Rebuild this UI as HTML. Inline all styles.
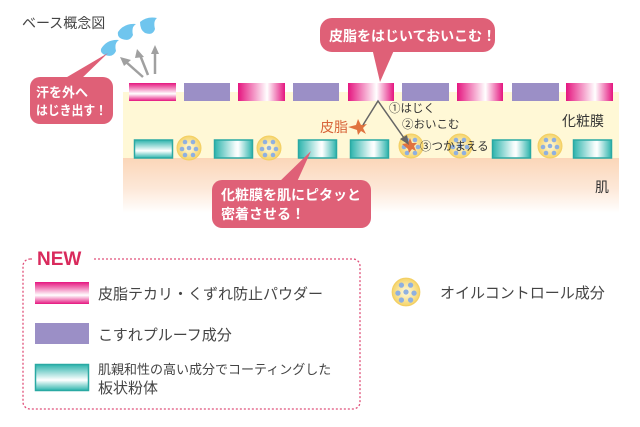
<!DOCTYPE html>
<html><head><meta charset="utf-8"><style>
html,body{margin:0;padding:0;background:#fff;}
svg{display:block;}
text{font-family:"Liberation Sans","Noto Sans CJK JP",sans-serif;}
</style></head><body>
<svg width="640" height="427" viewBox="0 0 640 427" xmlns="http://www.w3.org/2000/svg">
<defs>
<linearGradient id="pinkH" x1="0" x2="1" y1="0" y2="0">
<stop offset="0" stop-color="#e5157f"/><stop offset="0.55" stop-color="#fce6f1"/><stop offset="0.62" stop-color="#fff"/><stop offset="1" stop-color="#e5157f"/></linearGradient>
<linearGradient id="pinkV" x1="0" x2="0" y1="0" y2="1">
<stop offset="0" stop-color="#e5157f"/><stop offset="0.6" stop-color="#fff"/><stop offset="1" stop-color="#e5157f"/></linearGradient>
<linearGradient id="tealH" x1="0" x2="1" y1="0" y2="0">
<stop offset="0" stop-color="#2db4ad"/><stop offset="0.55" stop-color="#f2fbfa"/><stop offset="0.62" stop-color="#fff"/><stop offset="1" stop-color="#2db4ad"/></linearGradient>
<linearGradient id="tealV" x1="0" x2="0" y1="0" y2="1">
<stop offset="0" stop-color="#2db4ad"/><stop offset="0.6" stop-color="#fff"/><stop offset="1" stop-color="#2db4ad"/></linearGradient>
<linearGradient id="skin" x1="0" x2="0" y1="0" y2="1">
<stop offset="0" stop-color="#fbd6b8"/><stop offset="0.55" stop-color="#fde8d8"/><stop offset="1" stop-color="#fff"/></linearGradient>
<radialGradient id="ball"><stop offset="0" stop-color="#fffbe0"/><stop offset="1" stop-color="#f5d46a"/></radialGradient>
<g id="oil"><circle r="12" fill="url(#ball)" stroke="#f3cf63" stroke-width="1"/>
<circle cx="-4" cy="-6" r="2.3" fill="#8fb0e0"/><circle cx="4" cy="-6" r="2.3" fill="#8fb0e0"/>
<circle cx="-7" cy="1" r="2.3" fill="#8fb0e0"/><circle cx="0" cy="0" r="2.3" fill="#8fb0e0"/><circle cx="7" cy="1" r="2.3" fill="#8fb0e0"/>
<circle cx="-4" cy="7" r="2.3" fill="#8fb0e0"/><circle cx="4" cy="7" r="2.3" fill="#8fb0e0"/></g>
</defs>

<text x="22" y="28" font-size="14" fill="#444">ベース概念図</text>

<rect x="123" y="92" width="496" height="67" fill="#fff8d6"/>
<rect x="123" y="158" width="496" height="55" fill="url(#skin)"/>
<text x="562" y="126" font-size="14" fill="#333">化粧膜</text>
<text x="595" y="192" font-size="14" fill="#333">肌</text>

<rect x="129" y="83" width="47" height="18" fill="url(#pinkV)"/>
<rect x="184" y="83" width="46" height="18" fill="#9b8fc6"/>
<rect x="238" y="83" width="47" height="18" fill="url(#pinkH)"/>
<rect x="293" y="83" width="46" height="18" fill="#9b8fc6"/>
<rect x="348" y="83" width="46" height="18" fill="url(#pinkH)"/>
<rect x="402" y="83" width="47" height="18" fill="#9b8fc6"/>
<rect x="457" y="83" width="46" height="18" fill="url(#pinkH)"/>
<rect x="512" y="83" width="47" height="18" fill="#9b8fc6"/>
<rect x="566" y="83" width="47" height="18" fill="url(#pinkH)"/>

<g stroke="#2aa9a3" stroke-width="1.5">
<rect x="134.5" y="140" width="38" height="18" fill="url(#tealV)"/>
<rect x="214.5" y="140" width="38" height="18" fill="url(#tealH)"/>
<rect x="298.5" y="140" width="38" height="18" fill="url(#tealH)"/>
<rect x="350.5" y="140" width="38" height="18" fill="url(#tealH)"/>
<rect x="492.5" y="140" width="38" height="18" fill="url(#tealH)"/>
<rect x="573.5" y="140" width="38" height="18" fill="url(#tealH)"/>
</g>
<use href="#oil" x="189" y="148"/>
<use href="#oil" x="269" y="148"/>
<use href="#oil" x="411" y="146"/>
<use href="#oil" x="460" y="146"/>
<use href="#oil" x="550" y="146"/>

<text x="320" y="132" font-size="14" fill="#d8643a">皮脂</text>
<path d="M348 127 l8 -2 l2 -6 l3 6 l6 -1 l-4 4 l3 6 l-5 -3 l-3 4 l-1 -5 z" fill="#e0733f"/>
<path d="M402 144 l6 -1 l2 -5 l2 5 l5 0 l-3 3 l2 5 l-4 -2 l-3 4 l-1 -4 z" fill="#e0733f"/>
<polyline points="363,125 378,101 404,138" fill="none" stroke="#666" stroke-width="1.5"/>
<polygon points="409,145 400,139 407,135" fill="#666"/>
<text x="389" y="112" font-size="11.5" fill="#333">①はじく</text>
<text x="402" y="128" font-size="11.5" fill="#333">②おいこむ</text>
<text x="420" y="150" font-size="11.5" fill="#333">③つかまえる</text>

<g fill="#6fc5ee">
<path d="M101 49 q6 -10 18 -9 q-5 3 -3 11 q-3 7 -11 4 q-5 -2 -4 -6z"/>
<path d="M118 32 q6 -9 18 -8 q-5 3 -3 11 q-3 7 -11 4 q-5 -2 -4 -7z"/>
<path d="M140 22 q7 -6 17 -4 q-4 3 -2 11 q-2 7 -10 4 q-5 -3 -5 -11z"/>
</g>
<g stroke="#a0a0a0" stroke-width="2.5" fill="#a0a0a0">
<line x1="143" y1="77" x2="126" y2="62"/><polygon points="120,57 131,60 124,66" stroke="none"/>
<line x1="148" y1="75" x2="140" y2="55"/><polygon points="137,49 144,57 135,58" stroke="none"/>
<line x1="155" y1="74" x2="155" y2="52"/><polygon points="155,45 159,54 151,54" stroke="none"/>
</g>

<g fill="#df6077">
<rect x="30" y="77" width="83" height="47" rx="10"/>
<polygon points="62,80 80,80 108,53"/>
<rect x="320" y="18" width="175" height="34" rx="12"/>
<polygon points="372,48 395,48 380,82"/>
<rect x="212" y="180" width="159" height="48" rx="10"/>
<polygon points="277,184 296,184 311,151"/>
</g>
<g fill="#fff" font-size="14" font-weight="bold">
<text x="36" y="97" font-size="13">汗を外へ</text>
<text x="36" y="115" font-size="13" textLength="71" lengthAdjust="spacingAndGlyphs">はじき出す！</text>
<text x="329" y="41">皮脂をはじいておいこむ！</text>
<text x="221" y="200">化粧膜を肌にピタッと</text>
<text x="221" y="219">密着させる！</text>
</g>

<rect x="23" y="259" width="337" height="150" rx="7" fill="none" stroke="#e0507a" stroke-width="1.3" stroke-dasharray="2,2"/>
<rect x="32" y="248" width="60" height="20" fill="#fff"/>
<text x="37" y="265" font-size="19" font-weight="bold" fill="#d92a5c">NEW</text>
<rect x="35" y="282" width="54" height="22" fill="url(#pinkV)"/>
<rect x="35" y="323" width="54" height="21" fill="#9b8fc6"/>
<rect x="35.5" y="364.5" width="53" height="26" fill="url(#tealV)" stroke="#2aa9a3" stroke-width="1.5"/>
<g fill="#444">
<text x="98" y="299" font-size="15">皮脂テカリ・くずれ防止パウダー</text>
<text x="98" y="340" font-size="15">こすれプルーフ成分</text>
<text x="98" y="374" font-size="13">肌親和性の高い成分でコーティングした</text>
<text x="98" y="393" font-size="15">板状粉体</text>
<text x="440" y="298" font-size="15">オイルコントロール成分</text>
</g>
<g transform="translate(406,292) scale(1.15)"><use href="#oil"/></g>
</svg>
</body></html>
